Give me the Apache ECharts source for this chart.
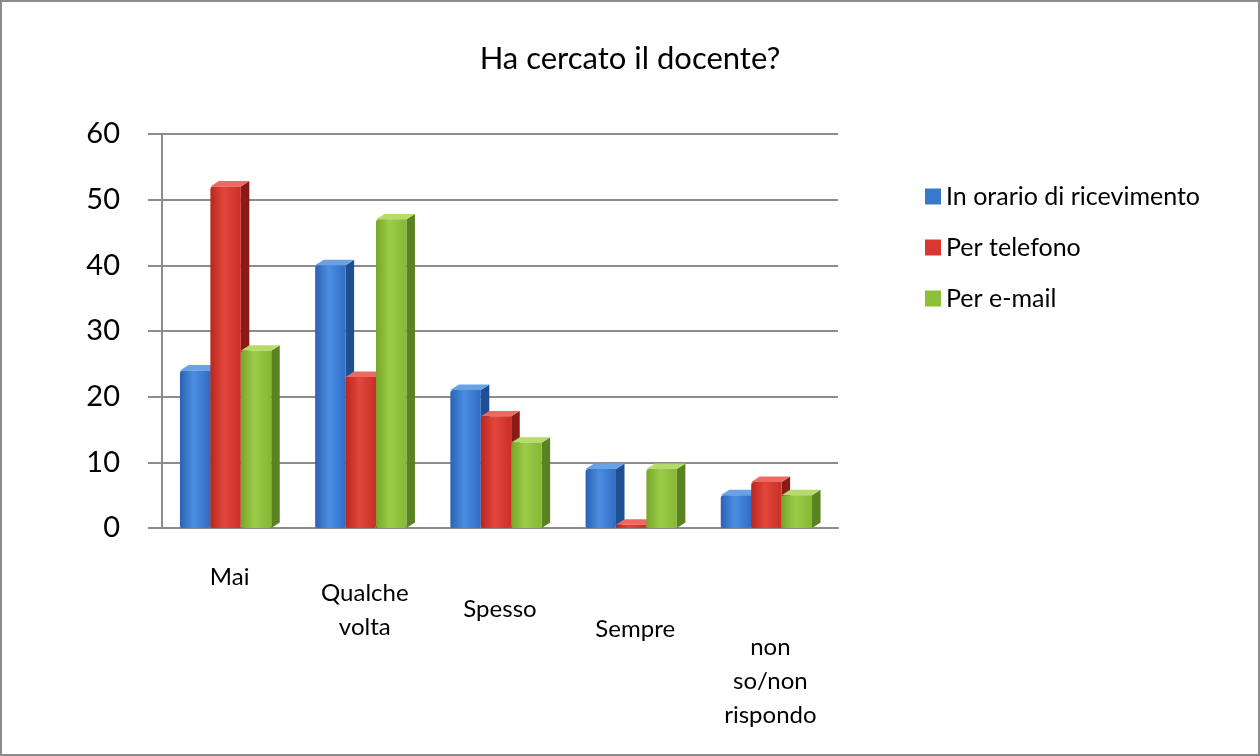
<!DOCTYPE html>
<html>
<head>
<meta charset="utf-8">
<script src="https://cdn.jsdelivr.net/npm/echarts@6/dist/echarts.min.js"></script>
<style>
  html, body { margin: 0; padding: 0; background: #fff; }
  #container { width: 1260px; height: 756px; box-sizing: border-box; border: 2px solid #8c8c8c; }
</style>
</head>
<body>
<div id="container"></div>
<script>
// dati (percentuali)
var categories = ['Mai', 'Qualche\nvolta', 'Spesso', 'Sempre', 'non\nso/non\nrispondo'];
var seriesNames = ['In orario di ricevimento', 'Per telefono', 'Per e-mail'];
var orarioValues = [24, 40, 21, 9, 5];
var telefonoValues = [52, 23, 17, 0.5, 7];
var emailValues = [27, 47, 13, 9, 5];

// spostamento verticale delle etichette (effetto prospettiva)
var labelDrop = [0, 16, 32, 52, 70];

var palette = [
    {front: ['#2a62b3', '#4b8ee0', '#2f6dc4'], side: '#1d4f92', top: '#6aa2e6', legend: '#3a78c9'},
    {front: ['#b8271f', '#e2463c', '#c83028'], side: '#8a1a15', top: '#ec6a60', legend: '#d9372f'},
    {front: ['#76a52a', '#9ccc48', '#86b735'], side: '#5a8220', top: '#b5dc6a', legend: '#8ebf3a'}
];

function makeRender(idx) {
    var c = palette[idx];
    return function (params, api) {
        var cat = api.value(0), val = api.value(1);
        var base = api.coord([cat, 0]);
        var top = api.coord([cat, val]);
        var band = api.size([1, 0])[0];
        var w = band * 0.225;
        var x = base[0] + (idx - 1) * w - w / 2 - 4;
        var dx = w * 0.28, dy = -w * 0.18;
        var yt = top[1], yb = base[1];
        return {
            type: 'group',
            children: [
                {
                    type: 'polygon',
                    shape: {points: [[x + w, yt], [x + w + dx, yt + dy], [x + w + dx, yb + dy], [x + w, yb]]},
                    style: {fill: c.side}
                },
                {
                    type: 'polygon',
                    shape: {points: [[x, yt], [x + dx, yt + dy], [x + w + dx, yt + dy], [x + w, yt]]},
                    style: {fill: c.top}
                },
                {
                    type: 'rect',
                    shape: {x: x, y: yt, width: w, height: yb - yt, r: [3, 0, 2, 2]},
                    style: {
                        fill: new echarts.graphic.LinearGradient(0, 0, 1, 0, [
                            {offset: 0, color: c.front[0]},
                            {offset: 0.45, color: c.front[1]},
                            {offset: 1, color: c.front[2]}
                        ])
                    }
                }
            ]
        };
    };
}

function toData(values) {
    var out = [];
    for (var i = 0; i < values.length; i++) {
        out.push([i, values[i]]);
    }
    return out;
}

var allValues = [orarioValues, telefonoValues, emailValues];
var series = [];
for (var s = 0; s < 3; s++) {
    series.push({
        name: seriesNames[s],
        type: 'custom',
        renderItem: makeRender(s),
        itemStyle: {color: palette[s].legend},
        encode: {x: 0, y: 1},
        clip: false,
        data: toData(allValues[s])
    });
}

var axisData = [];
for (var k = 0; k < categories.length; k++) {
    axisData.push({value: categories[k], textStyle: {padding: [labelDrop[k], 0, 0, 0]}});
}

var chart = echarts.init(document.getElementById('container'));
chart.setOption({
    animation: false,
    textStyle: {fontFamily: 'Lato'},
    title: {
        text: 'Ha cercato il docente?',
        left: 'center',
        top: 36,
        textStyle: {fontSize: 31, fontWeight: 'normal', color: '#000', fontFamily: 'Lato'}
    },
    legend: {
        orient: 'vertical',
        left: 918,
        top: 177,
        itemGap: 26,
        itemWidth: 16,
        itemHeight: 16,
        icon: 'rect',
        textStyle: {fontSize: 25, color: '#000', fontFamily: 'Lato'},
        data: seriesNames
    },
    grid: {left: 160, right: 420, top: 132, bottom: 226},
    xAxis: {
        type: 'category',
        data: axisData,
        axisLine: {lineStyle: {color: '#8c8c8c', width: 2}},
        axisTick: {show: false},
        axisLabel: {fontSize: 24, color: '#000', margin: 32, lineHeight: 34, interval: 0, fontFamily: 'Lato'}
    },
    yAxis: {
        type: 'value',
        min: 0,
        max: 60,
        interval: 10,
        axisLine: {show: true, lineStyle: {color: '#8c8c8c', width: 2}},
        axisTick: {show: true, inside: false, length: 14, lineStyle: {color: '#8c8c8c', width: 2}},
        axisLabel: {fontSize: 29, color: '#000', margin: 42, fontFamily: 'Lato'},
        splitLine: {lineStyle: {color: '#8c8c8c', width: 2}}
    },
    series: series
});
</script>
</body>
</html>
